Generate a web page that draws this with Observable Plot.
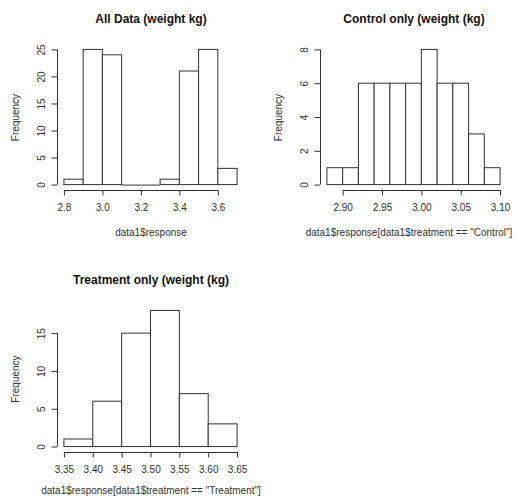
<!DOCTYPE html>
<html>
<head>
<meta charset="utf-8">
<script src="https://cdn.jsdelivr.net/npm/d3@7"></script>
<script src="https://cdn.jsdelivr.net/npm/@observablehq/plot@0.6"></script>
<style>
  html, body { margin: 0; padding: 0; background: #fff; overflow: hidden; }
  #wrap { position: relative; width: 515px; height: 501px; overflow: hidden; background: #fff; }
  #wrap > div { position: absolute; }
  svg { overflow: visible; }
</style>
</head>
<body>
<div id="wrap">
  <div id="p1" style="left:0px; top:0px;"></div>
  <div id="p2" style="left:263px; top:0px;"></div>
  <div id="p3" style="left:0px; top:262px;"></div>
</div>
<script>
// ---- Data ----
const allBreaks = [2.8, 2.9, 3.0, 3.1, 3.2, 3.3, 3.4, 3.5, 3.6, 3.7];
const allCounts = [1, 25, 24, 0, 0, 1, 21, 25, 3];
const allXTicks = [2.8, 3.0, 3.2, 3.4, 3.6];
const allYTicks = [0, 5, 10, 15, 20, 25];

const ctrlBreaks = [2.88, 2.90, 2.92, 2.94, 2.96, 2.98, 3.00, 3.02, 3.04, 3.06, 3.08, 3.10];
const ctrlCounts = [1, 1, 6, 6, 6, 6, 8, 6, 6, 3, 1];
const ctrlXTicks = [2.90, 2.95, 3.00, 3.05, 3.10];
const ctrlYTicks = [0, 2, 4, 6, 8];

const trtBreaks = [3.35, 3.40, 3.45, 3.50, 3.55, 3.60, 3.65];
const trtCounts = [1, 6, 15, 18, 7, 3];
const trtXTicks = [3.35, 3.40, 3.45, 3.50, 3.55, 3.60, 3.65];
const trtYTicks = [0, 5, 10, 15];

const titles = ["All Data (weight kg)", "Control only (weight (kg)", "Treatment only (weight (kg)"];
const xLabels = ["data1$response", "data1$response[data1$treatment == \"Control\"]", "data1$response[data1$treatment == \"Treatment\"]"];
const yLabel = "Frequency";

const FONT = "'Liberation Sans', Arial, Helvetica, sans-serif";
const INK = "#333";

function panel(o) {
  const bins = o.counts.map((n, i) => ({x1: o.breaks[i], x2: o.breaks[i + 1], n}));
  const b0 = o.breaks[0], bN = o.breaks[o.breaks.length - 1];
  const pad = 0.04 * (bN - b0);
  const ymax = d3.max(o.counts);
  const xmin = b0 - pad, xmax = bN + pad;
  const ymin = -0.04 * ymax, ytop = ymax * 1.04;
  const xSpine = [{y: ymin, x1: o.xTicks[0], x2: o.xTicks[o.xTicks.length - 1]}];
  const ySpine = [{x: xmin, y1: o.yTicks[0], y2: o.yTicks[o.yTicks.length - 1]}];
  return Plot.plot({
    width: o.width, height: o.height,
    marginLeft: o.ml, marginRight: o.mr, marginTop: o.mt, marginBottom: o.mb,
    style: {fontFamily: FONT, fontSize: "10px", background: "transparent", color: INK, overflow: "visible"},
    x: {domain: [xmin, xmax]},
    y: {domain: [ymin, ytop]},
    marks: [
      Plot.rectY(bins.filter(d => d.n > 0), {x1: "x1", x2: "x2", y: "n", fill: "white", stroke: INK, strokeWidth: 1}),
      Plot.ruleY(bins.filter(d => d.n === 0), {x1: "x1", x2: "x2", y: "n", stroke: INK, strokeWidth: 1}),
      Plot.ruleY(xSpine, {y: "y", x1: "x1", x2: "x2", stroke: INK}),
      Plot.ruleX(ySpine, {x: "x", y1: "y1", y2: "y2", stroke: INK}),
      Plot.axisX({ticks: o.xTicks, tickFormat: o.xFmt, tickSize: 5.5, tickPadding: 8, label: null, fontSize: 10, fill: INK, stroke: INK}),
      Plot.axisY({ticks: o.yTicks, tickFormat: () => "", tickSize: 5.5, label: null, stroke: INK}),
      Plot.text(o.yTicks, {y: d => d, frameAnchor: "left", rotate: -90, dx: -16, text: d => String(d),
        textAnchor: "middle", lineAnchor: "middle", fontSize: 10, fill: INK}),
      Plot.text([yLabel], {frameAnchor: "left", rotate: -90, dx: -42, textAnchor: "middle", lineAnchor: "middle", fontSize: 10, fill: INK}),
      Plot.text([o.xLabel], {frameAnchor: "bottom", dx: o.xlDx, dy: o.xlDy, textAnchor: "middle", lineAnchor: "middle", fontSize: 10, fill: INK}),
      Plot.text([o.title], {frameAnchor: "top", dy: -25, textAnchor: "middle", lineAnchor: "middle", fontSize: 12, fontWeight: "bold", fill: "#111"})
    ]
  });
}

const f1 = d3.format(".1f"), f2 = d3.format(".2f");

document.getElementById("p1").append(panel({
  breaks: allBreaks, counts: allCounts, xTicks: allXTicks, yTicks: allYTicks, xFmt: f1,
  title: titles[0], xLabel: xLabels[0],
  width: 257, height: 250, ml: 57, mr: 13, mt: 44, mb: 60, xlDx: 0, xlDy: 42
}));
document.getElementById("p2").append(panel({
  breaks: ctrlBreaks, counts: ctrlCounts, xTicks: ctrlXTicks, yTicks: ctrlYTicks, xFmt: f2,
  title: titles[1], xLabel: xLabels[1],
  width: 252, height: 250, ml: 57, mr: 8, mt: 44, mb: 60, xlDx: -5, xlDy: 42
}));
document.getElementById("p3").append(panel({
  breaks: trtBreaks, counts: trtCounts, xTicks: trtXTicks, yTicks: trtYTicks, xFmt: f2,
  title: titles[2], xLabel: xLabels[2],
  width: 257, height: 239, ml: 57, mr: 13, mt: 43, mb: 49, xlDx: 0, xlDy: 38
}));
</script>
</body>
</html>
